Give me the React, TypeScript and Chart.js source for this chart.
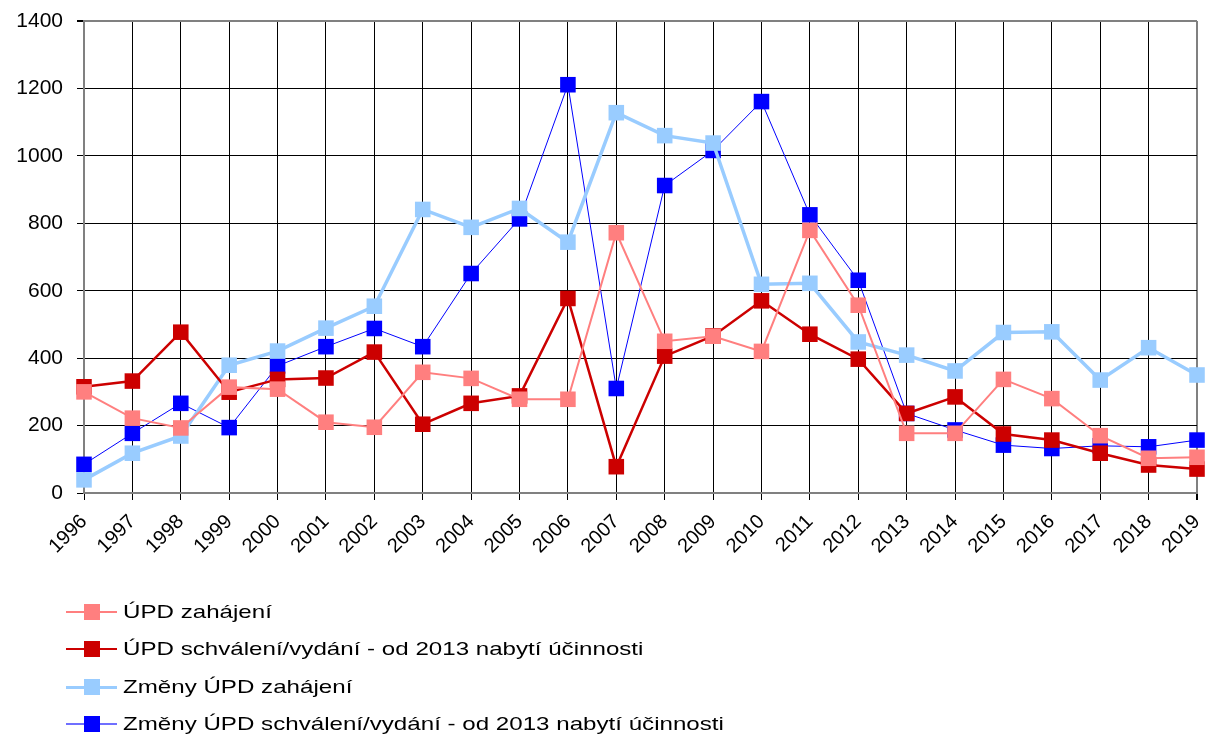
import { useEffect, useRef } from 'react';
import { Chart, registerables } from 'chart.js';

Chart.register(...registerables);

const years = ['1996', '1997', '1998', '1999', '2000', '2001', '2002', '2003', '2004', '2005', '2006', '2007', '2008', '2009', '2010', '2011', '2012', '2013', '2014', '2015', '2016', '2017', '2018', '2019'];

const updZahajeni = [300, 222, 193, 314, 308, 210, 195, 358, 340, 278, 278, 772, 450, 465, 420, 779, 557, 177, 177, 337, 280, 170, 103, 106];
const updSchvaleni = [315, 332, 477, 299, 337, 341, 418, 204, 266, 288, 577, 78, 406, 466, 570, 471, 397, 236, 285, 175, 157, 118, 83, 71];
const zmenyZahajeni = [39, 118, 169, 379, 421, 489, 554, 841, 788, 844, 744, 1128, 1060, 1038, 619, 622, 448, 409, 362, 476, 478, 335, 431, 350];
const zmenySchvaleni = [85, 177, 266, 194, 377, 434, 488, 434, 651, 813, 1211, 310, 912, 1016, 1161, 825, 631, 236, 187, 142, 132, 140, 137, 157];

const seriesNames = [
  'ÚPD zahájení',
  'ÚPD schválení/vydání - od 2013 nabytí účinnosti',
  'Změny ÚPD zahájení',
  'Změny ÚPD schválení/vydání - od 2013 nabytí účinnosti',
];
const seriesColors = ['#FF7F7F', '#CC0000', '#99CCFF', '#0000FF'];
const legendLineColors = ['#FF7F7F', '#CC0000', '#99CCFF', '#6F6FFF'];
const legendLineWidths = [2, 2, 3, 2];
const seriesWidths = [2, 2.5, 3.5, 1];

const yTicks = [0, 200, 400, 600, 800, 1000, 1200, 1400];

const FONT = "'Liberation Sans', Arial, sans-serif";

export default function App() {
  const ref = useRef<HTMLCanvasElement | null>(null);

  useEffect(() => {
    document.body.style.margin = '0';
    const canvas = ref.current;
    if (!canvas) return;
    const data = [updZahajeni, updSchvaleni, zmenyZahajeni, zmenySchvaleni];
    const chart = new Chart(canvas, {
      type: 'line',
      data: {
        labels: years,
        datasets: data.map((d, i) => ({
          label: seriesNames[i],
          data: d,
          borderColor: seriesColors[i],
          backgroundColor: seriesColors[i],
          borderWidth: seriesWidths[i],
          pointStyle: 'rect',
          pointRadius: 11,
          pointBorderWidth: 0,
          pointBackgroundColor: seriesColors[i],
          pointHoverRadius: 11,
          tension: 0,
          fill: false,
        })),
      },
      options: {
        animation: false,
        responsive: false,
        maintainAspectRatio: false,
        layout: { padding: { top: 21, right: 6, left: 0, bottom: 0 } },
        plugins: {
          legend: { display: false },
          tooltip: { enabled: false },
        },
        scales: {
          x: {
            type: 'category',
            offset: false,
            grid: {
              color: (ctx: any) => (ctx.index === years.length - 1 ? '#808080' : '#000000'),
              lineWidth: (ctx: any) => (ctx.index === years.length - 1 ? 2 : 1),
              tickLength: 7,
              drawTicks: true,
              tickColor: '#000000',
            },
            border: { display: true, color: '#808080', width: 2 },
            ticks: {
              color: '#000000',
              font: { family: FONT, size: 20 },
              minRotation: 45,
              maxRotation: 45,
              autoSkip: false,
              padding: 10,
            },
            afterFit: (scale: any) => {
              scale.height = 242;
              scale.paddingLeft = 0;
              scale.paddingRight = 0;
            },
          },
          y: {
            min: 0,
            max: 1400,
            afterBuildTicks: (scale: any) => {
              scale.ticks = yTicks.map((v) => ({ value: v }));
            },
            grid: {
              color: (ctx: any) => (ctx.tick && ctx.tick.value === 1400 ? '#808080' : '#000000'),
              lineWidth: (ctx: any) => (ctx.tick && ctx.tick.value === 1400 ? 2 : 1),
              tickLength: 7,
              tickColor: '#000000',
            },
            border: { display: true, color: '#808080', width: 2 },
            ticks: {
              color: '#000000',
              font: { family: FONT, size: 21 },
              padding: 14,
              callback: (v: any) => String(v),
            },
            afterFit: (scale: any) => {
              scale.width = 84;
              scale.paddingTop = 0;
              scale.paddingBottom = 0;
            },
          },
        },
      },
    });
    return () => chart.destroy();
  }, []);

  const legendRows = [612, 649, 687, 724];

  return (
    <div style={{ position: 'relative', width: 1208, height: 735, background: '#fff', overflow: 'hidden' }}>
      <canvas ref={ref} width={1208} height={735} style={{ position: 'absolute', left: 0, top: 0, width: 1208, height: 735 }} />
      {seriesNames.map((name, i) => (
        <div key={name} style={{ position: 'absolute', left: 0, top: legendRows[i] - 15, height: 30, width: 1208 }}>
          <div style={{ position: 'absolute', left: 66, top: 15 - legendLineWidths[i] / 2, width: 51, height: legendLineWidths[i], background: legendLineColors[i] }} />
          <div style={{ position: 'absolute', left: 84, top: 7, width: 16, height: 16, background: seriesColors[i] }} />
          <div style={{ position: 'absolute', left: 123, top: 0, height: 30, lineHeight: '30px', fontFamily: FONT, fontSize: 19, color: '#000', whiteSpace: 'nowrap', transform: 'scaleX(1.27)', transformOrigin: 'left center' }}>
            {name}
          </div>
        </div>
      ))}
    </div>
  );
}
